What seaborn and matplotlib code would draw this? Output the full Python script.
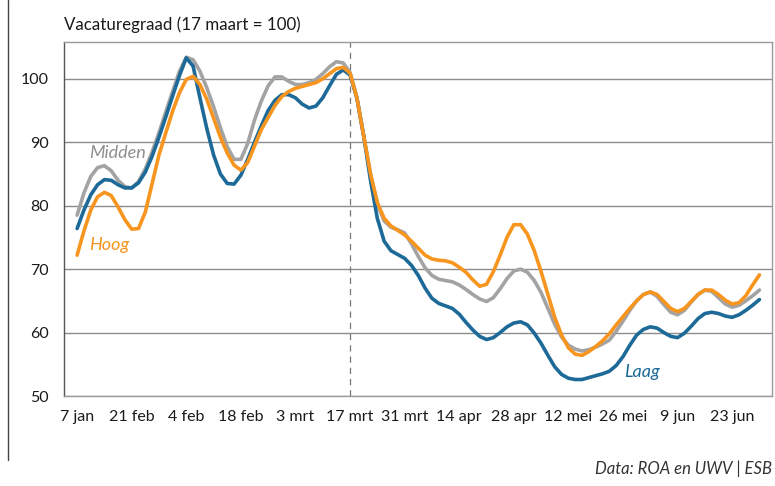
import numpy as np
import pandas as pd
import matplotlib.pyplot as plt
import seaborn as sns

# quarter-week samples (week 0 = 7 jan)
weeks = np.arange(101) / 4

laag = [76.4, 79.3, 81.7, 83.3, 84.1, 84.0, 83.3, 82.8, 82.8, 83.6,
        85.3, 87.8, 90.8, 94.0, 97.3, 100.5, 103.3, 102.0, 97.0, 92.2,
        88.0, 85.0, 83.5, 83.4, 84.8, 87.3, 90.0, 92.6, 95.0, 96.6,
        97.5, 97.5, 97.0, 96.0, 95.4, 95.7, 97.0, 98.9, 100.7, 101.4,
        100.6, 97.0, 91.0, 84.0, 78.0, 74.4, 72.9, 72.3, 71.7, 70.6,
        69.0, 67.0, 65.4, 64.6, 64.2, 63.8, 62.9, 61.6, 60.4, 59.4,
        58.9, 59.2, 60.0, 60.9, 61.5, 61.7, 61.2, 59.9, 58.3, 56.4,
        54.6, 53.4, 52.8, 52.6, 52.6, 52.9, 53.2, 53.5, 53.9, 54.8,
        56.2, 58.0, 59.6, 60.5, 60.9, 60.7, 60.0, 59.4, 59.2, 59.9,
        61.0, 62.2, 63.0, 63.2, 63.0, 62.6, 62.4, 62.8, 63.5, 64.3,
        65.2]
midden = [78.5, 82.0, 84.6, 86.0, 86.3, 85.5, 84.0, 83.0, 82.8, 83.8,
          85.8, 88.5, 91.5, 94.8, 98.0, 101.2, 103.4, 103.0, 101.2, 98.6,
          95.6, 92.3, 89.3, 87.3, 87.3, 89.8, 93.5, 96.5, 98.9, 100.3,
          100.3, 99.6, 99.1, 99.1, 99.4, 99.9, 100.8, 101.9, 102.7, 102.5,
          101.0, 97.0, 91.0, 85.0, 80.3, 77.6, 76.6, 76.2, 75.7, 74.0,
          72.0, 70.2, 69.0, 68.4, 68.2, 68.0, 67.5, 66.8, 66.0, 65.3,
          64.9, 65.5, 66.9, 68.5, 69.7, 70.0, 69.5, 68.2, 66.3, 63.8,
          61.3, 59.3, 58.0, 57.4, 57.1, 57.3, 57.7, 58.2, 58.8, 60.2,
          61.8, 63.5, 65.0, 66.0, 66.4, 65.7, 64.4, 63.2, 62.8, 63.5,
          64.8, 66.0, 66.7, 66.5, 65.5, 64.5, 64.0, 64.3, 65.0, 65.8,
          66.7]
hoog = [72.2, 76.0, 79.3, 81.4, 82.1, 81.6, 79.8, 77.8, 76.3, 76.4,
        79.0, 83.5, 88.0, 91.5, 94.9, 97.8, 99.9, 100.4, 99.1, 96.8,
        93.8, 90.8, 88.3, 86.4, 85.6, 86.8, 89.4, 92.0, 93.9, 95.8,
        97.2, 98.0, 98.5, 98.8, 99.1, 99.4, 100.0, 100.8, 101.6, 101.8,
        100.9, 97.0, 91.0, 85.0, 80.5, 78.0, 76.8, 76.1, 75.4, 74.4,
        73.3, 72.2, 71.6, 71.4, 71.3, 71.0, 70.3, 69.5, 68.3, 67.3,
        67.6, 69.6, 72.2, 75.0, 77.0, 77.0, 75.5, 72.9, 69.6, 66.0,
        62.4, 59.6, 57.6, 56.6, 56.4, 57.0, 57.8, 58.7, 59.8, 61.2,
        62.5, 63.8, 65.0, 66.0, 66.4, 66.0, 64.9, 63.8, 63.3, 63.8,
        64.9, 66.0, 66.7, 66.7, 66.0, 65.1, 64.5, 64.7, 65.8, 67.5,
        69.1]

tick_weeks = np.arange(0, 25, 2)
tick_labels = ['7 jan', '21 feb', '4 feb', '18 feb', '3 mrt', '17 mrt', '31 mrt',
               '14 apr', '28 apr', '12 mei', '26 mei', '9 jun', '23 jun']

colors = {'Midden': '#a3a3a3', 'Hoog': '#f7951e', 'Laag': '#1d6a98'}

n = len(weeks)
df = pd.DataFrame({
    'week': np.tile(weeks, 3),
    'waarde': laag + midden + hoog,
    'groep': ['Laag'] * n + ['Midden'] * n + ['Hoog'] * n,
})

sns.set_style('white')
plt.rcParams['font.family'] = ['Lato', 'DejaVu Sans']

fig = plt.figure(figsize=(7.75, 4.86), dpi=100)
ax = fig.add_axes([64 / 775, 1 - 396 / 486, (772 - 64) / 775, (396 - 42) / 486])

ax.axvline(10, color='#777777', lw=0.9, ls=(0, (5, 4)), zorder=1)
sns.lineplot(data=df, x='week', y='waarde', hue='groep', palette=colors,
             hue_order=['Midden', 'Laag', 'Hoog'], lw=2.6, legend=False, ax=ax)

ax.set_xlim(-0.48, 25.46)
ax.set_ylim(50, 105.8)
ax.set_yticks([50, 60, 70, 80, 90, 100])
ax.set_xticks(tick_weeks)
ax.set_xticklabels(tick_labels)
ax.set_xlabel('')
ax.set_ylabel('')
ax.grid(axis='y', color='#8c8c8c', lw=1.0)
ax.set_axisbelow(True)

for side in ['top', 'right', 'bottom']:
    ax.spines[side].set_color('#9a9a9a')
    ax.spines[side].set_linewidth(1.0)
ax.spines['left'].set_color('#555555')
ax.spines['left'].set_linewidth(1.0)

ax.tick_params(axis='y', length=7, width=1, color='#777777', pad=4,
               labelsize=11.5, labelcolor='#1a1a1a')
ax.tick_params(axis='x', length=7, width=1, color='#999999', pad=3,
               labelsize=11.5, labelcolor='#1a1a1a')

ax.text(0.45, 88.3, 'Midden', color='#8e8e8e', style='italic', fontsize=13, va='center')
ax.text(0.45, 73.8, 'Hoog', color=colors['Hoog'], style='italic', fontsize=13, va='center')
ax.text(20.05, 53.8, 'Laag', color=colors['Laag'], style='italic', fontsize=13, va='center')

fig.text(64 / 775, 1 - 25 / 486, 'Vacaturegraad (17 maart = 100)', fontsize=12.2,
         color='#1a1a1a', va='center', ha='left')
fig.text(772 / 775, 1 - 469 / 486, 'Data: ROA en UWV | ESB', fontsize=12,
         style='italic', color='#333333', va='center', ha='right')

fig.add_artist(plt.Line2D([7.5 / 775, 7.5 / 775], [1 - 460 / 486, 1], color='#444444',
                          lw=1.0, transform=fig.transFigure))

fig.savefig('out.png', dpi=100)
